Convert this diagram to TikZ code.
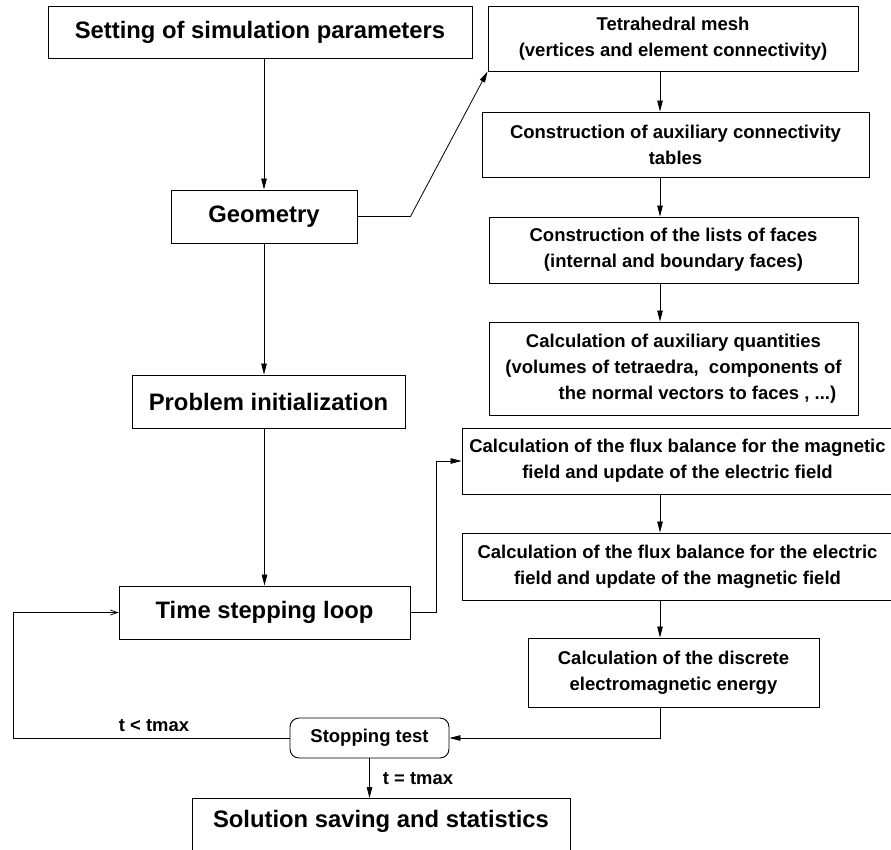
\documentclass[tikz,border=0pt]{standalone}
\usepackage{fontspec}
\setmainfont{Liberation Sans}
\usetikzlibrary{arrows.meta}
\begin{document}
\begin{tikzpicture}[x=1pt,y=-1pt,
  box/.style={draw, line width=0.9pt, inner sep=0pt, align=center},
  bigtxt/.style={font=\fontsize{23.8}{28}\selectfont\bfseries},
  smalltxt/.style={font=\fontsize{18.5}{26}\selectfont\bfseries},
  arr/.style={line width=0.8pt, -{Triangle[length=11pt,width=5.5pt]}},
  openarr/.style={line width=0.8pt, -{Straight Barb[length=7pt,width=5pt]}},
  lbl/.style={font=\fontsize{18.4}{20}\selectfont\bfseries, inner sep=0pt}]
\useasboundingbox (0,0) rectangle (891,849);
\coordinate (ax) at (660,0);
% left column
\node[box, bigtxt, minimum width=424, minimum height=52] (set) at (260,32) {Setting of simulation parameters};
\node[box, bigtxt, minimum width=186, minimum height=53] (geom) at (264,216.5) {Geometry};
\node[box, bigtxt, minimum width=273, minimum height=53] (pinit) at (268.5,401.5) {Problem initialization};
\node[box, bigtxt, minimum width=291, minimum height=53] (time) at (264.5,612.5) {Time stepping loop};
\node[box, smalltxt, rounded corners=9pt, minimum width=159, minimum height=40] (stop) at (369.5,738) {Stopping test};
\node[box, minimum width=378, minimum height=100, anchor=north] (sol) at (381,798) {};
\node[bigtxt, inner sep=0pt] (soltxt) at (381,821) {Solution saving and statistics};
% right column
\node[box, smalltxt, minimum width=370, minimum height=65] (tetra) at (673,38.5) {Tetrahedral mesh\\(vertices and element connectivity)};
\node[box, smalltxt, minimum width=387, minimum height=65] (conn) at (675.5,144.5) {Construction of auxiliary connectivity\\tables};
\node[box, smalltxt, minimum width=369, minimum height=66] (faces) at (673.5,250) {Construction of the lists of faces\\(internal and boundary faces)};
\node[box, smalltxt, minimum width=369, minimum height=93] (aux) at (673.5,368.5) {Calculation of auxiliary quantities\\(volumes of tetraedra,\ \ components of\\\hspace*{48pt}the normal vectors to faces , ...)};
\node[box, smalltxt, minimum width=431, minimum height=66] (flxm) at (677.5,461) {Calculation of the flux balance for the magnetic\\field and update of the electric field};
\node[box, smalltxt, minimum width=431, minimum height=67] (flxe) at (677.5,566.5) {Calculation of the flux balance for the electric\\field and update of the magnetic field};
\node[box, smalltxt, minimum width=291, minimum height=69] (energy) at (673.5,672.5) {Calculation of the discrete\\electromagnetic energy};
% connectors
\draw[arr] (geom.north |- set.south) -- (geom.north);
\draw[arr] (geom.east) -- ++(53,0) -- (tetra.south west);
\draw[arr] (geom.south) -- (geom.south |- pinit.north);
\draw[arr] (time.north |- pinit.south) -- (time.north);
\draw[arr] (tetra.south -| ax) -- (conn.north -| ax);
\draw[arr] (conn.south -| ax) -- (faces.north -| ax);
\draw[arr] (faces.south -| ax) -- (aux.north -| ax);
\draw[arr] (time.east) -- ++(26,0) |- (flxm.west);
\draw[arr] (flxm.south -| ax) -- (flxe.north -| ax);
\draw[arr] (flxe.south -| ax) -- (energy.north -| ax);
\draw[arr] (energy.south -| ax) |- (stop.east);
\coordinate (loopc) at (13,738);
\draw[openarr] (stop.west) -- (loopc) |- (time.west);
\draw[arr] (stop.south) -- (stop.south |- sol.north);
\node[lbl] (ltlt) at (154,726) {t < tmax};
\node[lbl] (lteq) at (418,779) {t = tmax};
\end{tikzpicture}
\end{document}
